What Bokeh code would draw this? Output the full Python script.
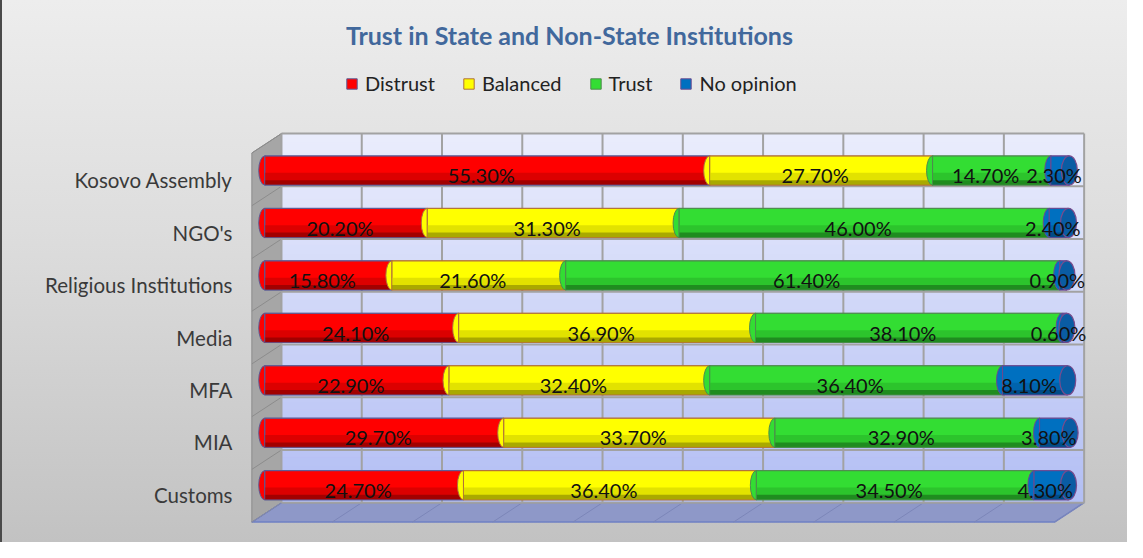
import numpy as np
from bokeh.plotting import figure
from bokeh.models import Range1d, FixedTicker, Label, Legend, LegendItem
from bokeh.embed import file_html
from bokeh.resources import INLINE
from bokeh.core.properties import value

# ---------------- data ----------------
categories = ["Kosovo Assembly", "NGO's", "Religious Institutions", "Media", "MFA", "MIA", "Customs"]
distrust   = [55.3, 20.2, 15.8, 24.1, 22.9, 29.7, 24.7]
balanced   = [27.7, 31.3, 21.6, 36.9, 32.4, 33.7, 36.4]
trust      = [14.7, 46.0, 61.4, 38.1, 36.4, 32.9, 34.5]
no_opinion = [2.3, 2.4, 0.9, 0.6, 8.1, 3.8, 4.3]
series_names = ["Distrust", "Balanced", "Trust", "No opinion"]
title_text = "Trust in State and Non-State Institutions"

# ---------------- style ----------------
FONT = "Lato"
base_colors = ["#ff0000", "#ffff00", "#33dd33", "#0070c0"]
mid_colors  = ["#dc0000", "#e2e200", "#2cc42c", "#0063ad"]
dark_colors = ["#a20000", "#a9a900", "#1f8c1f", "#004c88"]
edge_colors = ["#5b5b95", "#b0703a", "#4f8a4f", "#6a4a90"]

W, H = 1127, 542
BORDER_L = 243
X_START, X_END = -2.64, 107.23
Y_START, Y_END = -0.907, 9.426

n = len(categories)
y_pos = [n - 1 - i for i in range(n)]
BAR_LIFT = 0.185
BAR_H = 0.556
bar_y = np.array([y + BAR_LIFT for y in y_pos])

p = figure(width=W, height=H, output_backend="svg", toolbar_location=None,
           x_range=Range1d(X_START, X_END), y_range=Range1d(Y_START, Y_END),
           x_axis_location=None, min_border_left=BORDER_L, min_border_right=0,
           min_border_top=0, min_border_bottom=0)
p.border_fill_color = None
p.background_fill_color = None
p.outline_line_color = None
p.grid.visible = False
p.styles = {"background": "linear-gradient(to bottom, #ededed 0%, #dcdcdc 45%, #c2c2c2 100%)",
            "box-shadow": "inset 2px 0 0 #4a4a4a"}

# y axis (category labels)
p.yaxis.ticker = FixedTicker(ticks=y_pos)
p.yaxis.major_label_overrides = {y: c for y, c in zip(y_pos, categories)}
p.yaxis.major_tick_in = 0
p.yaxis.major_tick_out = 0
p.yaxis.minor_tick_in = 0
p.yaxis.minor_tick_out = 0
p.yaxis.axis_line_color = None
p.yaxis.major_label_standoff = 11
p.yaxis.major_label_text_font = FONT
p.yaxis.major_label_text_font_size = "20.5px"
p.yaxis.major_label_text_color = "#3a3a3a"

# ---------------- 3D box ----------------
BX0, BX1 = 2.08, 101.84
YB, YT = -0.148, 6.889
DX, DY = 3.68, 0.37

NS = 40
edges = np.linspace(YB, YT, NS + 1)
top_rgb = np.array([234, 237, 252])
bot_rgb = np.array([178, 190, 244])
strip_cols = []
for k in range(NS):
    t = (k + 0.5) / NS
    c = bot_rgb + (top_rgb - bot_rgb) * t
    strip_cols.append("#%02x%02x%02x" % tuple(int(round(v)) for v in c))
p.quad(left=BX0, right=BX1, bottom=edges[:-1], top=edges[1:],
       fill_color=strip_cols, line_color=strip_cols, line_width=1)

# floor
p.patch([BX0, BX1, BX1 - DX, BX0 - DX], [YB, YB, YB - DY, YB - DY],
        fill_color="#8e98c8", line_color="#6f80c4", line_width=1.5)
# side wall
p.patch([BX0, BX0, BX0 - DX, BX0 - DX], [YB, YT, YT - DY, YB - DY],
        fill_color="#a6a6a6", line_color="#8a8a8a", line_width=1)

gy = np.linspace(YB, YT, n + 1)
gx = BX0 + np.arange(11) * (BX1 - BX0) / 10.0
# diagonal continuations on side wall / floor
p.segment(x0=[BX0] * len(gy), y0=gy, x1=[BX0 - DX] * len(gy), y1=gy - DY,
          line_color="#8c8c8c", line_width=1)
p.segment(x0=gx, y0=[YB] * len(gx), x1=gx - DX, y1=[YB - DY] * len(gx),
          line_color="#7c86b8", line_width=1)
# back-wall grid
p.segment(x0=[BX0] * len(gy), y0=gy, x1=[BX1] * len(gy), y1=gy,
          line_color="#a2a2a2", line_width=2)
p.segment(x0=gx, y0=[YB] * len(gx), x1=gx, y1=[YT] * len(gx),
          line_color="#a2a2a2", line_width=2)

# ---------------- cylinders ----------------
series = [distrust, balanced, trust, no_opinion]
lefts = np.zeros(n)
legend_items = []
lab_x, lab_y, lab_t = [], [], []
for s, vals in enumerate(series):
    vals = np.array(vals, dtype=float)
    rights = lefts + vals
    p.ellipse(x=lefts, y=bar_y, width=12, height=BAR_H, width_units="screen",
              fill_color=base_colors[s], line_color=edge_colors[s], line_width=1)
    r = p.hbar(y=bar_y, left=lefts, right=rights, height=BAR_H,
               fill_color=base_colors[s], line_color=edge_colors[s], line_width=1)
    h1 = BAR_H * 0.42
    p.hbar(y=bar_y - BAR_H / 2 + h1 / 2, left=lefts, right=rights, height=h1,
           fill_color=mid_colors[s], line_color=None)
    h2 = BAR_H * 0.17
    p.hbar(y=bar_y - BAR_H / 2 + h2 / 2, left=lefts, right=rights, height=h2,
           fill_color=dark_colors[s], line_color=None)
    p.hbar(y=bar_y, left=lefts, right=rights, height=BAR_H,
           fill_color=None, line_color=edge_colors[s], line_width=1, line_alpha=0.8)
    legend_items.append(LegendItem(label=series_names[s], renderers=[r]))
    lab_x += list(lefts + vals / 2)
    lab_y += list(bar_y - 0.09)
    lab_t += ["%.2f%%" % v for v in vals]
    lefts = rights

# end caps
p.ellipse(x=lefts, y=bar_y, width=16, height=BAR_H, width_units="screen",
          fill_color="#0a5ca3", line_color="#7a4b8c", line_width=1.2)

# data labels
p.text(x=lab_x, y=lab_y, text=lab_t, text_align="center", text_baseline="middle",
       x_offset=-6, text_font=value(FONT), text_font_size="20px", text_color="#111111")

# title
p.add_layout(Label(x=37.87, y=8.76, text=title_text, text_align="center",
                   text_baseline="middle", text_font=FONT, text_font_style="bold",
                   text_font_size="25px", text_color="#41689c"))

legend = Legend(items=legend_items, orientation="horizontal", location=(102, 447),
                glyph_width=13, glyph_height=13, label_standoff=7, spacing=27,
                padding=0, margin=0, border_line_color=None, background_fill_alpha=0,
                label_text_font=FONT, label_text_font_size="20px",
                label_text_color="#222222")
p.add_layout(legend)

open("out.html", "w").write(file_html(p, INLINE))
